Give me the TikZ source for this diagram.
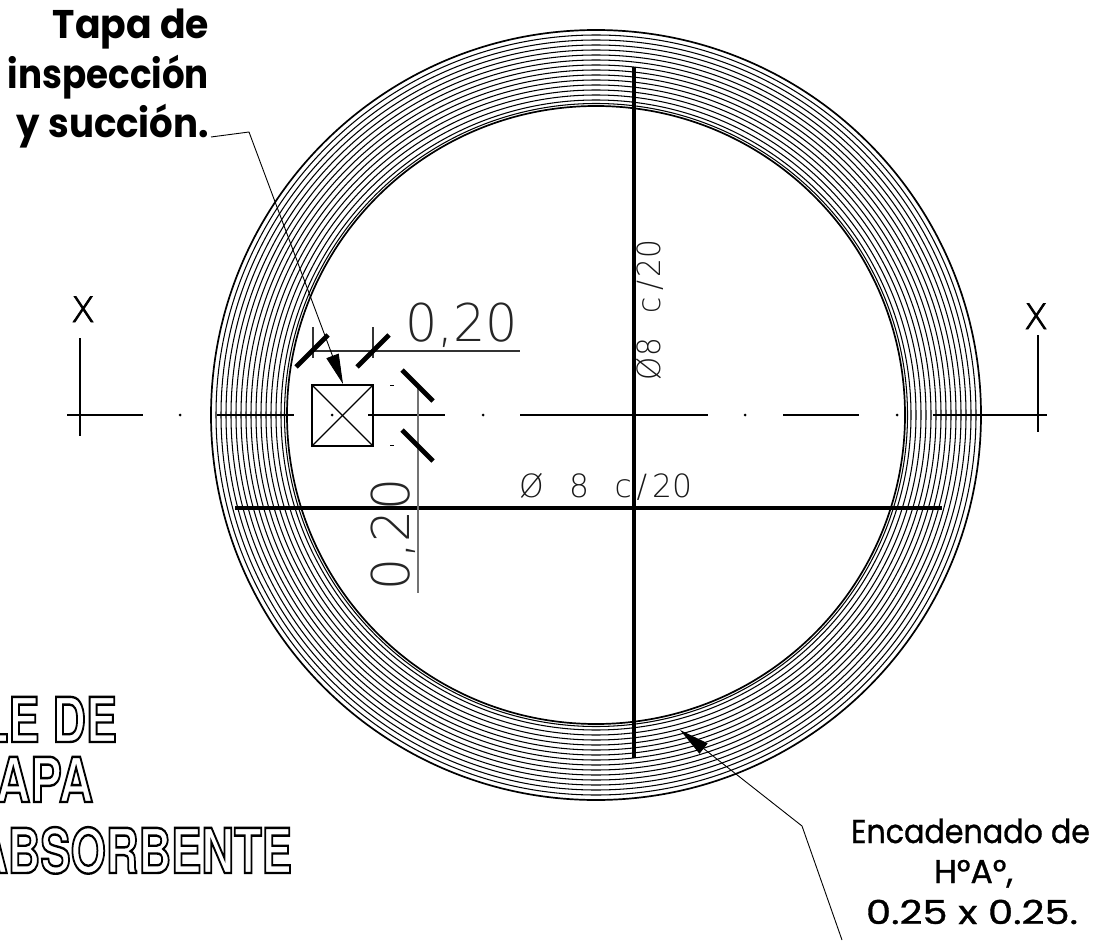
\documentclass[tikz,border=0pt]{standalone}
\usepackage{fontspec}
\usepackage{graphicx}
\usetikzlibrary{arrows.meta}
\setmainfont{Liberation Sans}
\newfontfamily\handfont{Poppins}
\newfontfamily\thinfont{DejaVu Sans ExtraLight}
\newfontfamily\titlefont{TeX Gyre Heros}
\newcommand{\fitw}[2]{\resizebox{#1pt}{\height}{#2}}
\newcommand{\outl}[1]{\special{pdf:code 1 Tr 2.4 w}#1\special{pdf:code 0 Tr 1 w}}
\newcommand{\heavy}[1]{\special{pdf:code 2 Tr 0.8 w}#1\special{pdf:code 0 Tr 1 w}}
\newcommand{\semi}[1]{\special{pdf:code 2 Tr 0.3 w}#1\special{pdf:code 0 Tr 1 w}}
\tikzset{
  txt/.style={inner sep=0pt,outer sep=0pt},
  ring/.style={line width=1.05pt,draw=black},
  ringb/.style={line width=1.7pt,draw=black},
  center line/.style={line width=1.9pt,black},
  dotmark/.style={circle,fill=black,inner sep=0pt,minimum size=3pt},
  rebar/.style={line width=3.2pt,black},
  hatch/.style={line width=4.8pt,black},
  leader/.style={line width=0.9pt,black},
  dim/.style={line width=1.1pt,black!55},
  tick/.style={line width=1.1pt,black!80},
  bigtip/.style={-{Triangle[length=30pt,width=13pt]}},
}
\begin{document}
\begin{tikzpicture}[x=1pt,y=-1pt]
\useasboundingbox (0,0) rectangle (1102,941);
\fill[white] (0,0) rectangle (1102,941);
% rings
\coordinate (c) at (596,415);
\foreach \r in {380,375,370,365,360,355,350,345,340,335,330,325,320,315,311.5}
  \draw[ring] (c) circle[radius=\r pt];
\draw[ringb] (c) circle[radius=385pt];
\draw[ringb] (c) circle[radius=309pt];
% centre line
\draw[center line] (67,415) -- (143,415);
\draw[center line] (217,415) -- (294,415);
\draw[center line] (368,415) -- (445,415);
\draw[center line] (520,415) -- (708,415);
\draw[center line] (783,415) -- (859,415);
\draw[center line] (933,415) -- (1047,415);
\node[dotmark] (d1) at (180,415) {};
\node[dotmark] (d2) at (332,415) {};
\node[dotmark] (d3) at (483,415) {};
\node[dotmark] (d4) at (745,415) {};
\node[dotmark] (d5) at (897,415) {};
\draw[line width=1.7pt] (80,338) -- (80,436);
\draw[line width=1.7pt] (1038,335) -- (1038,432);
\node[txt,anchor=base,font=\fontsize{35}{35}\thinfont] (xl) at (83,322) {\heavy{X}};
\node[txt,anchor=base,font=\fontsize{35}{35}\thinfont] (xr) at (1036,329) {\heavy{X}};
% rebars
\draw[rebar] (634,67) -- (634,758);
\draw[rebar] (235,508) -- (942,508);
% square
\node[draw=black,line width=1.7pt,minimum size=61pt,inner sep=0pt,outer sep=0pt] (sq) at (342.5,415.5) {};
\draw[line width=1.3pt] (sq.north west) -- (sq.south east);
\draw[line width=1.3pt] (sq.north east) -- (sq.south west);
% dimension lines
\draw[tick] (313,327) -- (313,358);
\draw[tick] (373,327) -- (373,358);
\draw[dim,black!80] (313,351) -- (520,351);
\draw[dim] (418,387) -- (418,593);
\draw[hatch] (296,367) -- (328,335);
\draw[hatch] (357,367) -- (389,335);
\draw[hatch] (402,370) -- (433,401);
\draw[hatch] (402,430) -- (433,461);
\draw[line width=1pt] (390,385) -- (394,385);
\draw[line width=1pt] (390,445) -- (394,445);
% dimension labels
\node[txt,anchor=base west,font=\fontsize{52}{52}\thinfont,text=black!85] (d20h) at (405,341) {\fitw{113}{0,20}};
\node[txt,anchor=base west,font=\fontsize{52}{52}\thinfont,text=black!85,rotate=90] (d20v) at (409,590) {\fitw{112}{0,20}};
\node[txt,anchor=base west,font=\fontsize{32}{32}\thinfont,text=black!90] (bh) at (519,497) {\fitw{173}{Ø\hspace{26pt}8\hspace{26pt}c\hspace{5pt}/\hspace{5pt}20}};
\node[txt,anchor=base west,font=\fontsize{32}{32}\thinfont,text=black!90,rotate=90] (bv) at (660,380) {\fitw{140}{Ø8\hspace{26pt}c\hspace{8pt}/\hspace{3pt}20}};
% notes and leaders
\node[txt,anchor=base east,font=\fontsize{40}{40}\handfont\bfseries] (t1) at (209,39) {\fitw{156}{Tapa de}};
\node[txt,anchor=base east,font=\fontsize{40}{40}\handfont\bfseries] (t2) at (209,89) {\fitw{201}{inspección}};
\node[txt,anchor=base east,font=\fontsize{40}{40}\handfont\bfseries] (t3) at (209,138) {\fitw{192}{y succión.}};
\coordinate (tipa) at (343,384);
\coordinate (benda) at (249,132);
\coordinate (starta) at (211,137);
\draw[leader,bigtip] (starta) -- (benda) -- (tipa);
\coordinate (tipb) at (680,730);
\coordinate (bendb) at (802,826);
\coordinate (startb) at (842,940);
\draw[leader,bigtip] (startb) -- (bendb) -- (tipb);
\node[txt,anchor=base west,font=\fontsize{33}{33}\handfont] (e1) at (851,843) {\fitw{239}{\semi{Encadenado de}}};
\node[txt,anchor=base west,font=\fontsize{33}{33}\handfont] (e2) at (934,883) {\fitw{79}{\semi{H°A°,}}};
\node[txt,anchor=base west,font=\fontsize{33}{33}\handfont] (e3) at (866,924) {\fitw{212}{\semi{0.25 x 0.25.}}};
% title
\node[txt,anchor=base east,font=\fontsize{62}{62}\titlefont\bfseries] (ti1) at (117,742) {\fitw{137}{\outl{LE DE}}};
\node[txt,anchor=base east,font=\fontsize{62}{62}\titlefont\bfseries] (ti2) at (93,802) {\fitw{97}{\outl{APA}}};
\node[txt,anchor=base east,font=\fontsize{62}{62}\titlefont\bfseries] (ti3) at (292,873) {\fitw{317}{\outl{ABSORBENTE}}};
\end{tikzpicture}
\end{document}
